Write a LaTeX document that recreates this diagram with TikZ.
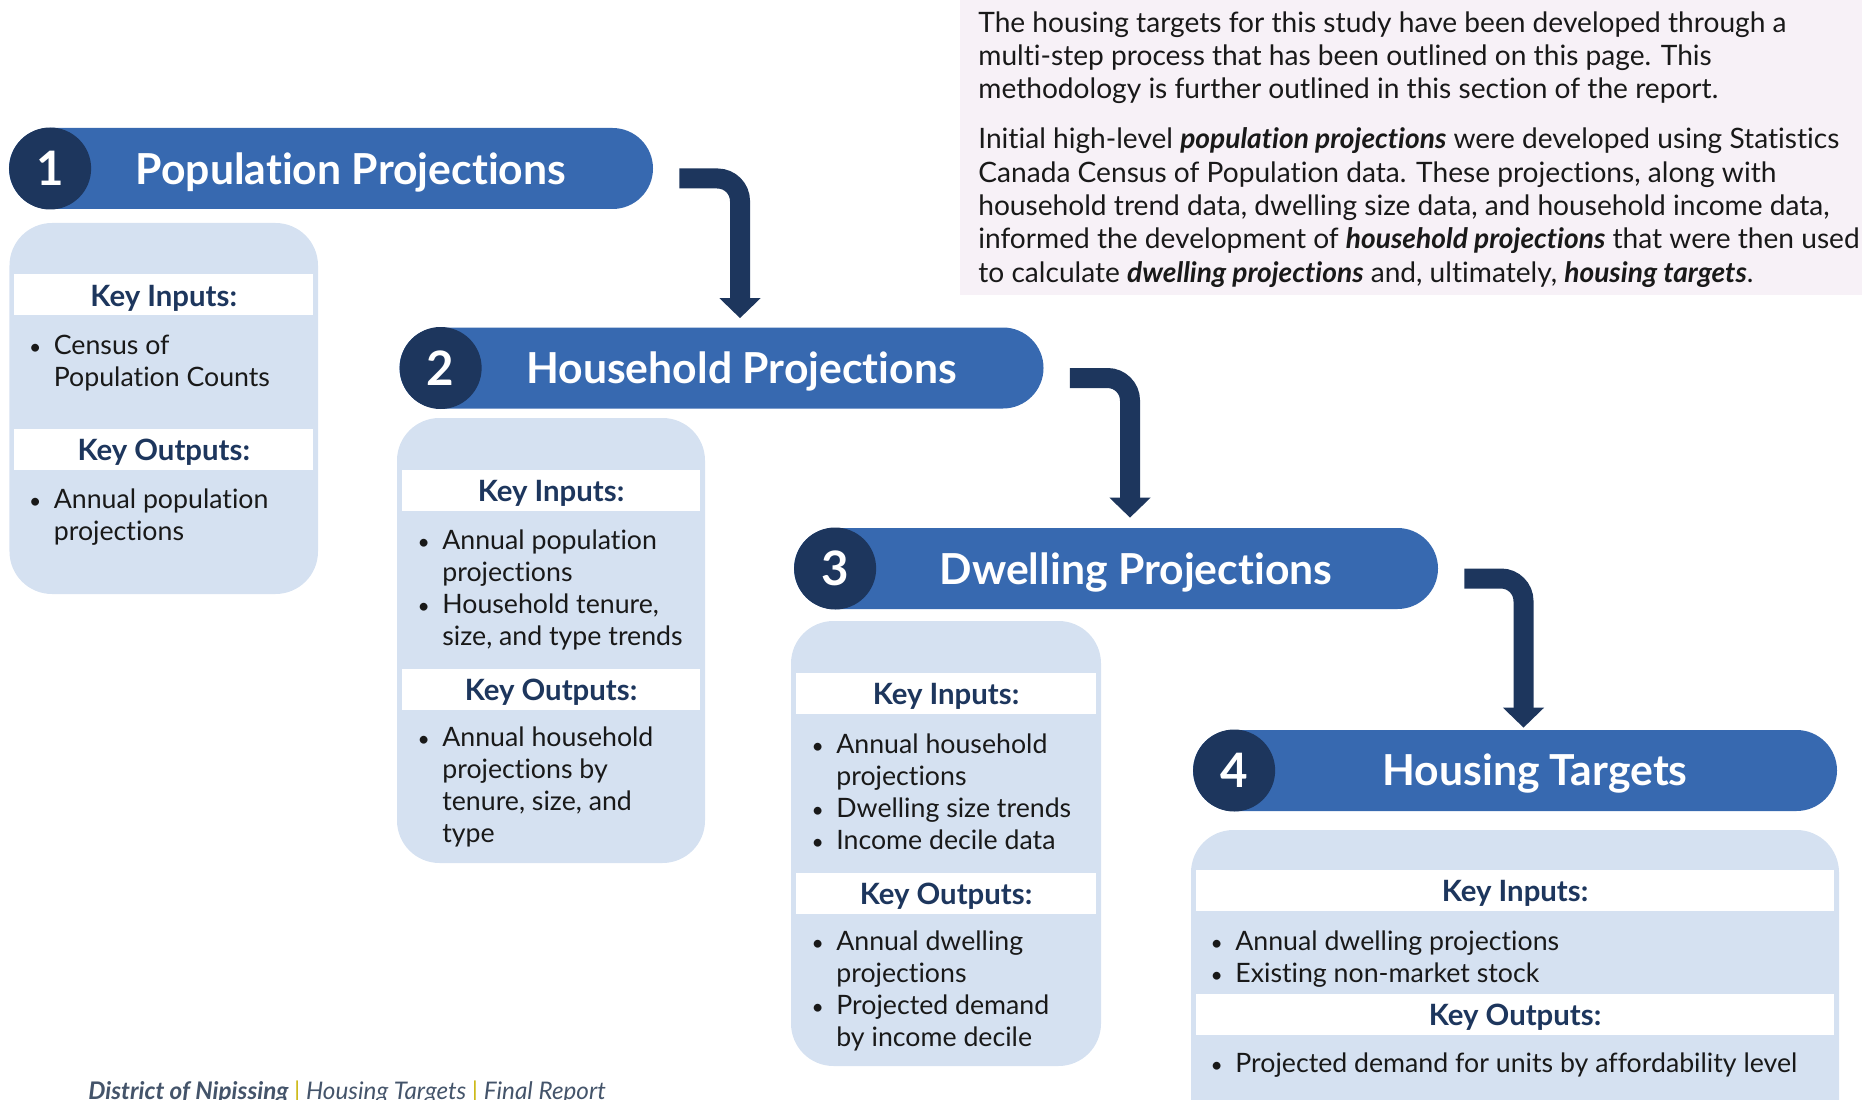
\documentclass[tikz,border=0pt]{standalone}
\usepackage{fontspec}
\setmainfont{Lato}[Ligatures=NoCommon]
\usepackage{tikz}
\usetikzlibrary{arrows.meta, positioning}
\usepackage{xcolor}
\definecolor{bannerblue}{RGB}{55,105,176}
\definecolor{navy}{RGB}{29,54,93}
\definecolor{panelblue}{RGB}{213,225,241}
\definecolor{notebg}{RGB}{247,241,247}
\definecolor{footgray}{RGB}{68,84,106}
\definecolor{footgold}{RGB}{204,184,20}
\newcommand{\itm}{\strut\llap{{\fontsize{12}{12}\selectfont\textbullet}\hspace{0.25cm}}}
\tikzstyle{banner} = [rectangle, rounded corners=0.81cm, minimum width=12.88cm, minimum height=1.62cm, fill=bannerblue, inner sep=0pt]
\tikzstyle{stepnum} = [circle, minimum size=1.64cm, fill=navy, text=white, inner sep=0pt, font=\fontsize{27}{30}\selectfont\bfseries]
\tikzstyle{bannertext} = [text=white, inner sep=0pt, yshift=-0.07cm, font=\fontsize{24.3}{28}\selectfont\bfseries]
\tikzstyle{panel} = [rectangle, rounded corners=0.85cm, fill=panelblue, inner sep=0pt]
\tikzstyle{strip} = [rectangle, fill=white, minimum height=0.82cm, inner sep=0pt, text height=14pt, text depth=0.7pt, text=navy, font=\fontsize{16.7}{20}\selectfont\bfseries]
\tikzstyle{items} = [align=left, anchor=north west, inner sep=0pt, yshift=-0.065cm, text=black!90, font=\fontsize{15.2}{18.2}\selectfont]
\tikzstyle{notetext} = [align=left, anchor=north west, inner sep=0pt, yshift=-0.07cm, text=black!90, font=\fontsize{16}{18.95}\selectfont]
\tikzstyle{flow} = [line width=0.4cm, navy, rounded corners=0.45cm, -{Triangle[width=0.8cm,length=0.4cm]}]

\begin{document}
\begin{tikzpicture}

\clip (0,0) rectangle (37.24,-22);

% Note in the top right corner
\node[rectangle, fill=notebg, inner sep=0pt, anchor=north west, minimum width=18.05cm, minimum height=5.89cm] (note_bg) at (19.19,0) {};
\node[notetext] (note_a) at (19.56,-0.104) {\strut The housing targets for this study have been developed through a\\
multi-step process that has been outlined on this page. This\\
methodology is further outlined in this section of the report.};
\node[notetext] (note_b) at (19.56,-2.434) {\strut Initial high-level \textbf{\textit{population projections}} were developed using Statistics\\
Canada Census of Population data. These projections, along with\\
household trend data, dwelling size data, and household income data,\\
informed the development of \textbf{\textit{household projections}} that were then used\\
to calculate \textbf{\textit{dwelling projections}} and, ultimately, \textbf{\textit{housing targets}}.};

% Step 1
\node[banner] (pop) at (6.62,-3.37) {};
\node[stepnum] (pop_num) at ([xshift=0.83cm]pop.west) {1};
\node[bannertext] (pop_title) at ([xshift=0.4cm]pop.center) {Population Projections};
\node[panel, minimum width=6.17cm, minimum height=7.42cm] (pop_box) at (3.275,-8.17) {};
\node[strip, minimum width=5.97cm] (pop_in) at (3.275,-5.89) {Key Inputs:};
\node[items] (pop_in_list) at (1.07,-6.572) {\itm Census of\\Population Counts};
\node[strip, minimum width=5.97cm] (pop_out) at (3.275,-8.98) {Key Outputs:};
\node[items] (pop_out_list) at (1.07,-9.652) {\itm Annual population\\projections};

% Step 2
\node[banner] (hh) at (14.43,-7.36) {};
\node[stepnum] (hh_num) at ([xshift=0.83cm]hh.west) {2};
\node[bannertext] (hh_title) at ([xshift=0.4cm]hh.center) {Household Projections};
\node[panel, minimum width=6.16cm, minimum height=8.9cm] (hh_box) at (11.02,-12.81) {};
\node[strip, minimum width=5.96cm] (hh_in) at (11.02,-9.80) {Key Inputs:};
\node[items] (hh_in_list) at (8.84,-10.472) {\itm Annual population\\projections\\\itm Household tenure,\\size, and type trends};
\node[strip, minimum width=5.96cm] (hh_out) at (11.02,-13.78) {Key Outputs:};
\node[items] (hh_out_list) at (8.84,-14.412) {\itm Annual household\\projections by\\tenure, size, and\\type};

% Step 3
\node[banner] (dw) at (22.32,-11.37) {};
\node[stepnum] (dw_num) at ([xshift=0.83cm]dw.west) {3};
\node[bannertext] (dw_title) at ([xshift=0.4cm]dw.center) {Dwelling Projections};
\node[panel, minimum width=6.2cm, minimum height=8.9cm] (dw_box) at (18.92,-16.87) {};
\node[strip, minimum width=6cm] (dw_in) at (18.92,-13.86) {Key Inputs:};
\node[items] (dw_in_list) at (16.72,-14.552) {\itm Annual household\\projections\\\itm Dwelling size trends\\\itm Income decile data};
\node[strip, minimum width=6cm] (dw_out) at (18.92,-17.86) {Key Outputs:};
\node[items] (dw_out_list) at (16.72,-18.492) {\itm Annual dwelling\\projections\\\itm Projected demand\\by income decile};

% Step 4
\node[banner] (ht) at (30.30,-15.41) {};
\node[stepnum] (ht_num) at ([xshift=0.83cm]ht.west) {4};
\node[bannertext] (ht_title) at ([xshift=0.4cm]ht.center) {Housing Targets};
\node[panel, minimum width=12.96cm, minimum height=7cm] (ht_box) at (30.30,-20.1) {};
\node[strip, minimum width=12.76cm] (ht_in) at (30.30,-17.80) {Key Inputs:};
\node[items] (ht_in_list) at (24.7,-18.492) {\itm Annual dwelling projections\\\itm Existing non-market stock};
\node[strip, minimum width=12.76cm] (ht_out) at (30.30,-20.28) {Key Outputs:};
\node[items] (ht_out_list) at (24.7,-20.932) {\itm Projected demand for units by affordability level};

% Elbow arrows between the steps
\draw[flow] ([xshift=0.52cm,yshift=-0.2cm]pop.east) -| ([xshift=0.37cm,yshift=0.18cm]hh.north);
\draw[flow] ([xshift=0.52cm,yshift=-0.2cm]hh.east) -| ([xshift=0.28cm,yshift=0.2cm]dw.north);
\draw[flow] ([xshift=0.52cm,yshift=-0.2cm]dw.east) -| ([xshift=0.17cm,yshift=0.04cm]ht.north);

% Footer
\node[anchor=base west, inner sep=0pt, text=footgray, font=\fontsize{13.8}{16}\selectfont\itshape] (footer) at (1.76,-21.99) {\textbf{District of Nipissing} \textcolor{footgold}{|} Housing Targets \textcolor{footgold}{|} Final Report};

\end{tikzpicture}
\end{document}
